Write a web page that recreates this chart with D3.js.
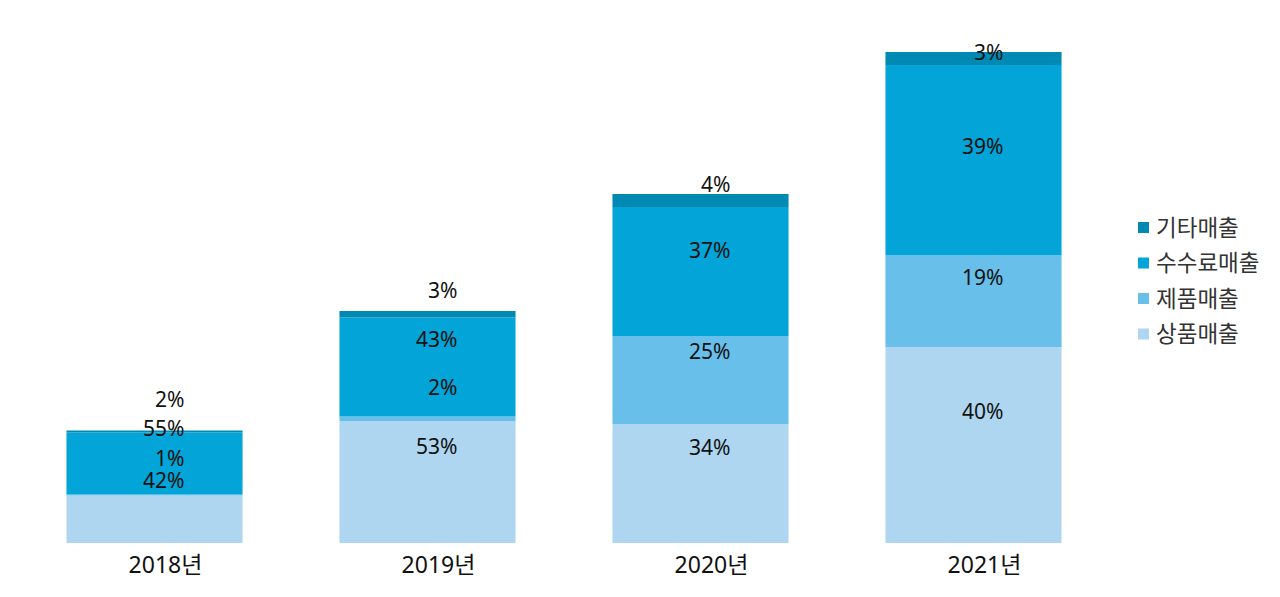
<!DOCTYPE html>
<html>
<head>
<meta charset="utf-8">
<script src="https://cdn.jsdelivr.net/npm/d3@7"></script>
<style>
    body { margin: 0; background: #fff; }
    svg text { font-family: "Noto Sans", "Noto Sans CJK KR", sans-serif; }
</style>
</head>
<body>
<div id="chart"></div>
<script>
// categories and series (bottom-up stack order)
const years = ["2018년", "2019년", "2020년", "2021년"];
const seriesNames = ["상품매출", "제품매출", "수수료매출", "기타매출"];
const goods = [47.5, 122, 119, 196];
const products = [1, 4.5, 88, 92];
const fees = [62, 99, 129, 190];
const others = [2, 6.5, 13, 13];
const colors = ["#aed6f0", "#67bfea", "#03a4d7", "#0089b3"];

const width = 1280;
const height = 597;
const margin = { top: 43, right: 170, bottom: 54, left: 18 };

const table = years.map((year, i) => ({
    year: year,
    "상품매출": goods[i],
    "제품매출": products[i],
    "수수료매출": fees[i],
    "기타매출": others[i]
}));

const stack = d3.stack().keys(seriesNames);
const layers = stack(table);

const svg = d3.select("#chart")
    .append("svg")
    .attr("width", width)
    .attr("height", height);

const x = d3.scaleBand()
    .domain(years)
    .range([margin.left, 1110])
    .paddingInner(0.355)
    .paddingOuter(0.1775);

const y = d3.scaleLinear()
    .domain([0, 500])
    .range([height - margin.bottom, margin.top]);

// labels sit on a slightly compressed, raised copy of the y scale
const yLabel = d3.scaleLinear()
    .domain([0, 500])
    .range([y(0) - 38, y(0) - 38 - 0.93 * (y(0) - y(500))]);

svg.selectAll(".layer")
    .data(layers)
    .enter()
    .append("g")
    .attr("class", "layer")
    .attr("fill", (d, i) => colors[i])
    .selectAll("rect")
    .data(d => d)
    .enter()
    .append("rect")
    .attr("x", d => x(d.data.year))
    .attr("width", x.bandwidth())
    .attr("y", d => y(d[1]))
    .attr("height", d => y(d[0]) - y(d[1]));

// percentage labels, drawn above all bars
const totals = table.map(row => d3.sum(seriesNames, k => row[k]));
const labelData = [];
layers.forEach(layer => {
    layer.forEach((v, i) => labelData.push({ v: v, i: i }));
});

svg.append("g")
    .attr("class", "labels")
    .selectAll("text")
    .data(labelData)
    .enter()
    .append("text")
    .attr("x", d => x(years[d.i]) + x.bandwidth() / 2 + 30)
    .attr("y", d => yLabel((d.v[0] + d.v[1]) / 2))
    .attr("dy", "0.25em")
    .attr("text-anchor", "end")
    .attr("font-size", 21)
    .attr("fill", "#111")
    .text(d => Math.round((d.v[1] - d.v[0]) / totals[d.i] * 100) + "%");

// x axis labels only
const xAxis = svg.append("g")
    .attr("transform", `translate(11,${y(0)})`)
    .call(d3.axisBottom(x).tickSize(0).tickPadding(14));
xAxis.select(".domain").remove();
xAxis.selectAll("text")
    .attr("font-size", 23)
    .attr("fill", "#111")
    .style("font-family", "\"Noto Sans\", \"Noto Sans CJK KR\", sans-serif");

// legend
const legend = svg.append("g")
    .attr("transform", "translate(1138,228)");

const legendItems = legend.selectAll(".legend-item")
    .data(seriesNames.slice().reverse())
    .enter()
    .append("g")
    .attr("class", "legend-item")
    .attr("transform", (d, i) => `translate(0,${i * 35.5})`);

legendItems.append("rect")
    .attr("x", 0)
    .attr("y", -6)
    .attr("width", 11)
    .attr("height", 11)
    .attr("fill", d => colors[seriesNames.indexOf(d)]);

legendItems.append("text")
    .attr("x", 18)
    .attr("dy", "0.35em")
    .attr("font-size", 22.5)
    .attr("fill", "#333")
    .text(d => d);
</script>
</body>
</html>
